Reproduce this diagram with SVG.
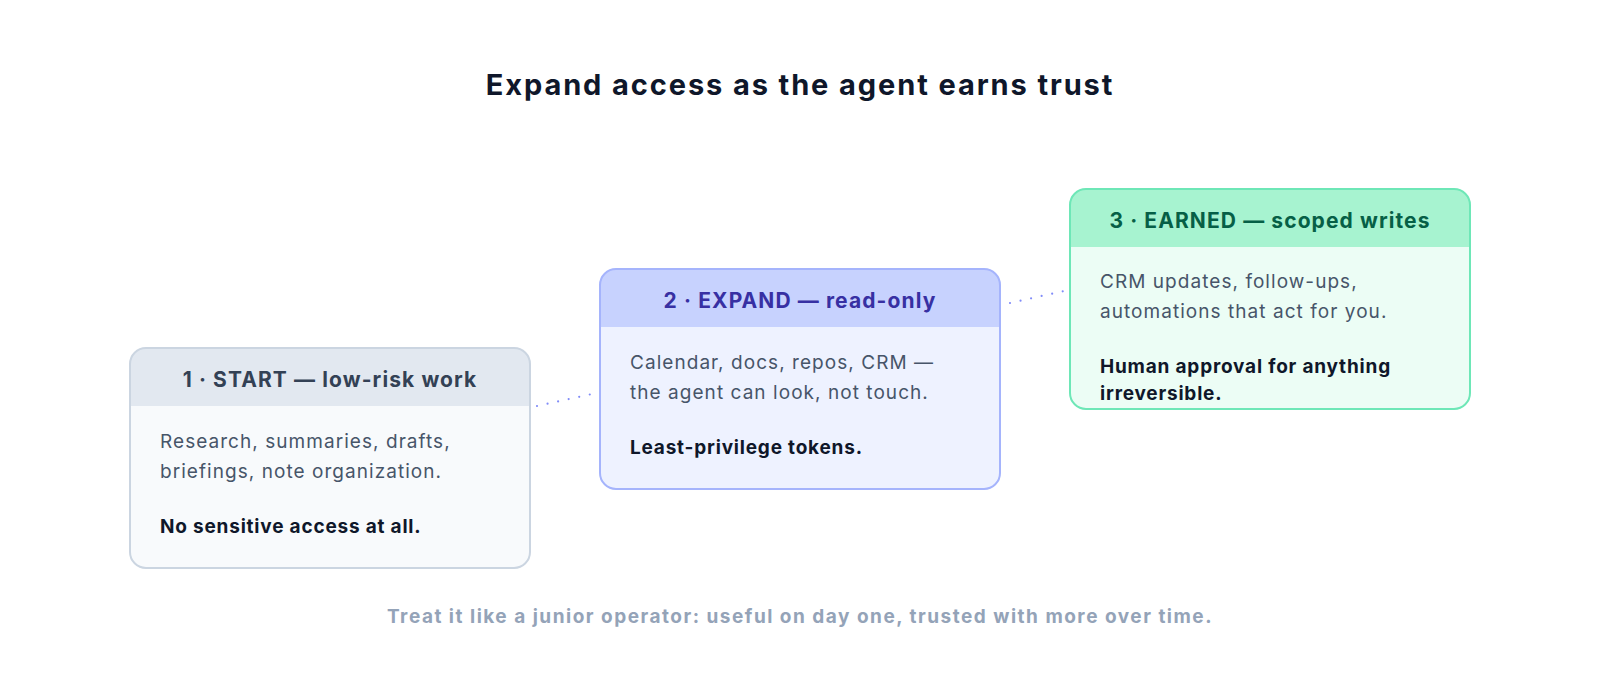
<svg xmlns="http://www.w3.org/2000/svg" width="1600" height="678" viewBox="0 0 1600 678">
<style>
  text { font-family: Inter, "Liberation Sans", sans-serif; }
  .title { font-size: 29px; font-weight: 700; fill: #0f172a; letter-spacing: 1.9px; }
  .hdr { font-size: 21px; font-weight: 700; text-anchor: middle; letter-spacing: 1.1px; }
  .body { font-size: 19px; fill: #475569; letter-spacing: 1.05px; }
  .bold { font-size: 19px; font-weight: 700; fill: #0f172a; letter-spacing: 0.8px; }
  .foot { font-size: 19px; font-weight: 700; fill: #94a3b8; text-anchor: middle; letter-spacing: 1.5px; }
  .conn { stroke: #818cf8; stroke-width: 2.2; stroke-linecap: round; stroke-dasharray: 0 10.8; fill: none; }
  .frame { fill: none; stroke-width: 2; }
</style>
<rect x="0" y="0" width="1600" height="678" fill="#ffffff"/>
<text class="title" x="800" y="95" text-anchor="middle">Expand access as the agent earns trust</text>

<g id="connectors">
  <line class="conn" x1="537" y1="406" x2="592" y2="394"/>
  <line class="conn" x1="1010" y1="303" x2="1064" y2="291"/>
</g>

<g id="node1">
  <rect x="130" y="348" width="400" height="220" rx="16" fill="#f8fafc"/>
  <path d="M130,406 V364 A16,16 0 0 1 146,348 H514 A16,16 0 0 1 530,364 V406 Z" fill="#e2e8f0"/>
  <rect class="frame" x="130" y="348" width="400" height="220" rx="16" stroke="#cbd5e1"/>
  <text class="hdr" x="330" y="387" fill="#334155">1 · START — low-risk work</text>
  <text class="body" x="160" y="448">Research, summaries, drafts,</text>
  <text class="body" x="160" y="478">briefings, note organization.</text>
  <text class="bold" x="160" y="533">No sensitive access at all.</text>
</g>

<g id="node2">
  <rect x="600" y="269" width="400" height="220" rx="16" fill="#eef2ff"/>
  <path d="M600,327 V285 A16,16 0 0 1 616,269 H984 A16,16 0 0 1 1000,285 V327 Z" fill="#c7d2fe"/>
  <rect class="frame" x="600" y="269" width="400" height="220" rx="16" stroke="#a5b4fc"/>
  <text class="hdr" x="800" y="308" fill="#3730a3">2 · EXPAND — read-only</text>
  <text class="body" x="630" y="369">Calendar, docs, repos, CRM —</text>
  <text class="body" x="630" y="399">the agent can look, not touch.</text>
  <text class="bold" x="630" y="454">Least-privilege tokens.</text>
</g>

<g id="node3">
  <rect x="1070" y="189" width="400" height="220" rx="16" fill="#ecfdf5"/>
  <path d="M1070,247 V205 A16,16 0 0 1 1086,189 H1454 A16,16 0 0 1 1470,205 V247 Z" fill="#a7f3d0"/>
  <rect class="frame" x="1070" y="189" width="400" height="220" rx="16" stroke="#6ee7b7"/>
  <text class="hdr" x="1270" y="228" fill="#065f46">3 · EARNED — scoped writes</text>
  <text class="body" x="1100" y="288">CRM updates, follow-ups,</text>
  <text class="body" x="1100" y="318">automations that act for you.</text>
  <text class="bold" x="1100" y="373">Human approval for anything</text>
  <text class="bold" x="1100" y="400">irreversible.</text>
</g>

<text class="foot" x="800" y="623">Treat it like a junior operator: useful on day one, trusted with more over time.</text>
</svg>
